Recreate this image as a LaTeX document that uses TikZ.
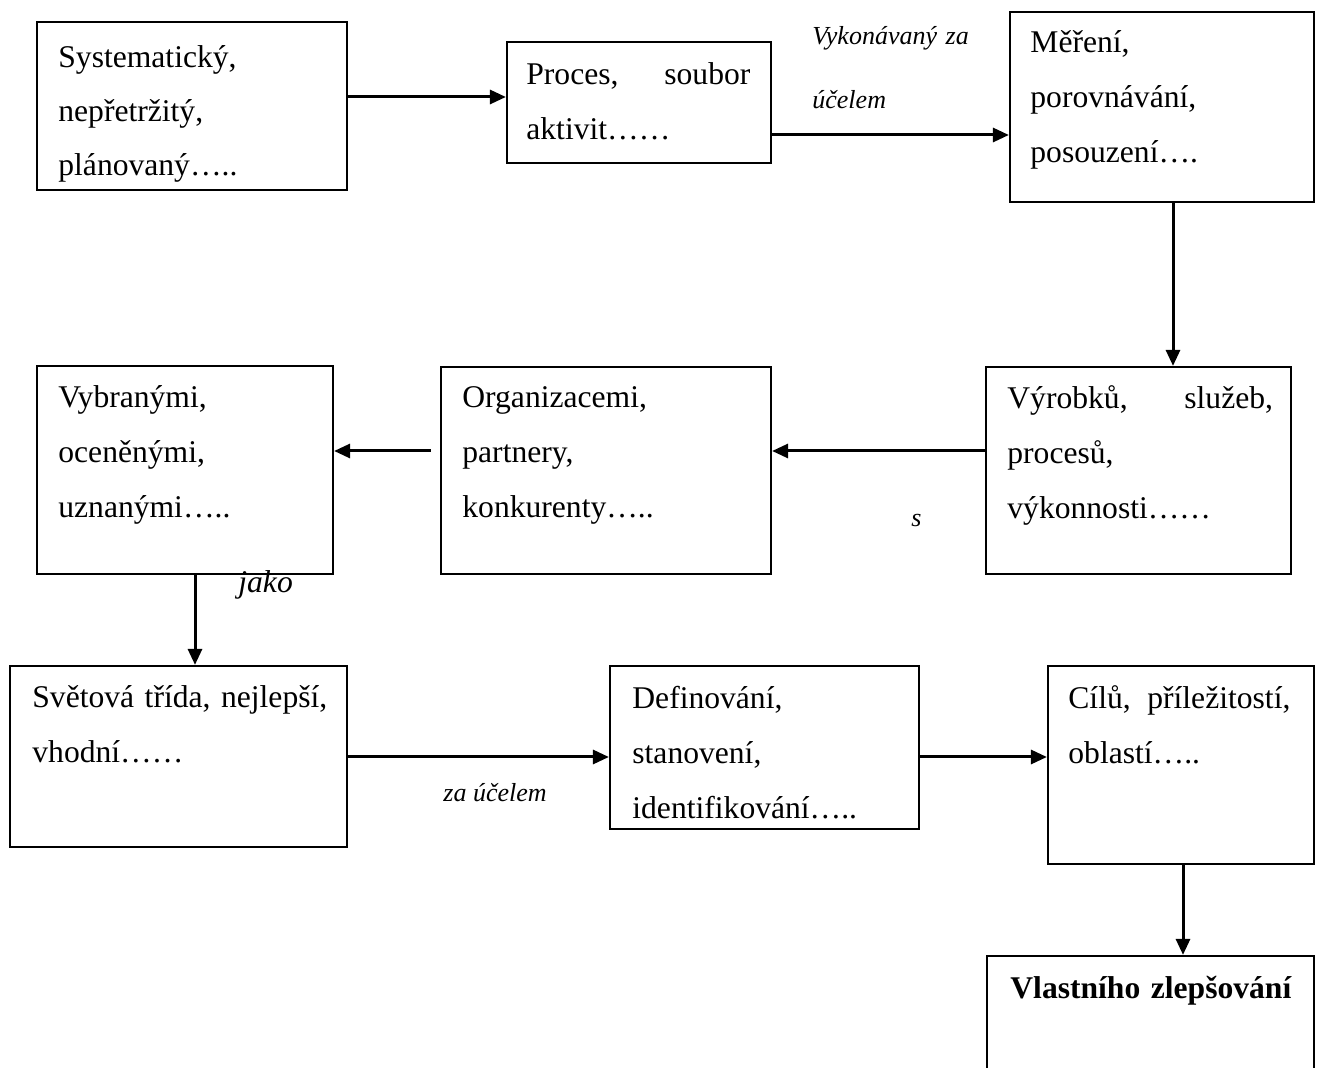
\documentclass[tikz,border=0pt]{standalone}
\usepackage{fontspec}
\setmainfont{Liberation Serif}
\usetikzlibrary{arrows.meta,fit}
\setlength\parindent{0pt}
\newcommand\bodyfs{\fontsize{15.8}{27.6}\selectfont}
\newcommand\bodyfsb{\fontsize{15.8}{27}\selectfont}
\newcommand\labfs{\fontsize{13}{32}\selectfont\itshape}
\newcommand\st{\rule{0pt}{12pt}}
\tikzset{
  box/.style={draw=black, line width=1.1pt, inner sep=0pt, rectangle},
  txt/.style={inner sep=0pt, anchor=north west, text width=200pt, align=left, font=\bodyfs},
  lab/.style={inner sep=0pt, anchor=base west, font=\labfs},
  arr/.style={line width=1.5pt, -{Triangle[length=8pt,width=7pt]}}
}
\begin{document}
\begin{tikzpicture}[x=0.5pt,y=-0.5pt]
\useasboundingbox (0,0) rectangle (1317,1068);
\clip (0,0) rectangle (1317,1068);
\fill[white] (0,0) rectangle (1317,1068);
% boxes
\node[box, fit={(37,22) (347,190)}] (b1) {};
\node[box, fit={(507,42) (771,163)}] (b2) {};
\node[box, fit={(1010,12) (1314,202)}] (b3) {};
\node[box, fit={(986,367) (1291,574)}] (b4) {};
\node[box, fit={(441,367) (771,574)}] (b5) {};
\node[box, fit={(37,366) (333,574)}] (b6) {};
\node[box, fit={(10,666) (347,847)}] (b7) {};
\node[box, fit={(610,666) (919,829)}] (b8) {};
\node[box, fit={(1048,666) (1314,864)}] (b9) {};
\node[box, fit={(987,956) (1314,1100)}] (b10) {};
% texts
\node[txt, font=\bodyfsb] (t1) at (58,43) {\st Systematický,\\nepřetržitý,\\plánovaný…..};
\node[txt, text width=112pt] (t2) at (526,60) {\st Proces,\hfill soubor\\aktivit……};
\node[txt] (t3) at (1030,28) {\st Měření,\\porovnávání,\\posouzení….};
\node[txt, text width=132.8pt] (t4) at (1007,384) {\st Výrobků,\hfill služeb,\\procesů,\\výkonnosti……};
\node[txt] (t5) at (462,383) {\st Organizacemi,\\partnery,\\konkurenty…..};
\node[txt] (t6) at (58,383) {\st Vybranými,\\oceněnými,\\uznanými…..};
\node[txt] (t7) at (32,683) {\st Světová třída, nejlepší,\\vhodní……};
\node[txt] (t8) at (632,684) {\st Definování,\\stanovení,\\identifikování…..};
\node[txt, text width=111pt] (t9) at (1068,684) {\st Cílů,\hfill příležitostí,\\oblastí…..};
\node[txt] (t10) at (1010,974) {\st\bfseries Vlastního zlepšování};
% labels
\node[inner sep=0pt, anchor=north west, text width=120pt, align=left, font=\labfs] (l1) at (812,24) {\rule{0pt}{10pt}Vykonávaný za\\účelem};
\node[lab] (l2) at (911,527) {s};
\node[lab, font=\bodyfs\itshape] (l3) at (238,593) {jako};
\node[lab] (l4) at (443,801) {za účelem};
% connectors
\coordinate (c5) at ([xshift=-4.5pt]b5.west);
\draw[arr] (b1.east |- 0,97) -- (b2.west |- 0,97);
\draw[arr] (b2.east |- 0,135) -- (b3.west |- 0,135);
\draw[arr] (b3.south -| 1173,0) -- (b4.north -| 1173,0);
\draw[arr] (b4.west |- 0,451) -- (b5.east |- 0,451);
\draw[arr] (c5 |- 0,451) -- (b6.east |- 0,451);
\draw[arr] (b6.south -| 195,0) -- (b7.north -| 195,0);
\draw[arr] (b7.east |- 0,757) -- (b8.west |- 0,757);
\draw[arr] (b8.east |- 0,757) -- (b9.west |- 0,757);
\draw[arr] (b9.south -| 1183,0) -- (b10.north -| 1183,0);
\end{tikzpicture}
\end{document}
